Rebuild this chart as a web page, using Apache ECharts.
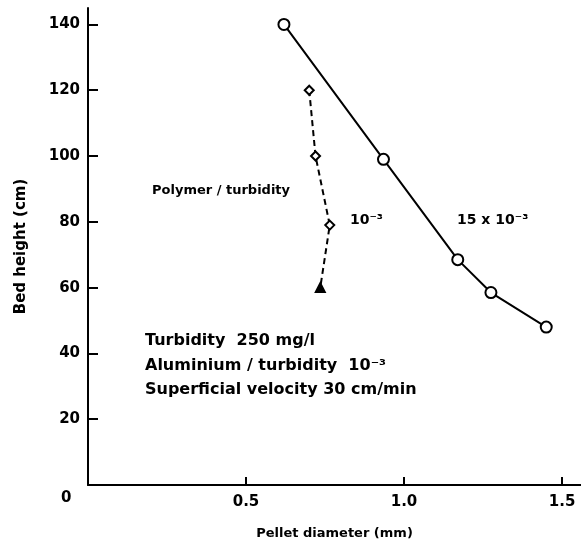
<!DOCTYPE html>
<html>
<head>
<meta charset="utf-8">
<script src="https://cdn.jsdelivr.net/npm/echarts@6/dist/echarts.min.js"></script>
<style>
  html, body { margin: 0; padding: 0; background: #fff; }
  #chart { width: 581px; height: 545px; }
</style>
</head>
<body>
<div id="chart"></div>
<script>
// solid curve: aluminium + polymer 15 x 10^-3
const solidX = [0.62, 0.935, 1.17, 1.275, 1.45];
const solidY = [140, 99, 68.5, 58.5, 48];
// dashed curve: polymer 10^-3
const dashX = [0.70, 0.72, 0.765, 0.735];
const dashY = [120, 100, 79, 60];
const dashSymbols = ['emptyDiamond', 'emptyDiamond', 'emptyDiamond', 'triangle'];
// tick labels
const xTicks = [0.5, 1.0, 1.5];
const yTicks = [20, 40, 60, 80, 100, 120, 140];

const font = 'DejaVu Sans';
const chart = echarts.init(document.getElementById('chart'));

const toPairs = (xs, ys) => xs.map((x, i) => [x, ys[i]]);

chart.setOption({
  backgroundColor: '#fff',
  animation: false,
  grid: { left: 88, top: 8, width: 493, height: 477 },
  xAxis: {
    type: 'value',
    min: 0,
    max: 1.56,
    name: 'Pellet diameter (mm)',
    nameLocation: 'middle',
    nameGap: 42,
    nameTextStyle: { fontFamily: font, fontWeight: 'bold', fontSize: 13, color: '#000' },
    splitLine: { show: false },
    axisLine: { onZero: false, lineStyle: { color: '#000', width: 2 } },
    axisTick: { inside: true, length: 8, customValues: xTicks, lineStyle: { color: '#000', width: 2 } },
    axisLabel: {
      customValues: xTicks,
      formatter: v => v.toFixed(1),
      margin: 10,
      fontFamily: font, fontWeight: 'bold', fontSize: 15, color: '#000'
    }
  },
  yAxis: {
    type: 'value',
    min: 0,
    max: 145,
    name: 'Bed height (cm)',
    nameLocation: 'middle',
    nameGap: 59,
    nameTextStyle: { fontFamily: font, fontWeight: 'bold', fontSize: 15, color: '#000' },
    splitLine: { show: false },
    axisLine: { onZero: false, lineStyle: { color: '#000', width: 2 } },
    axisTick: { inside: true, length: 10, customValues: yTicks, lineStyle: { color: '#000', width: 2 } },
    axisLabel: {
      customValues: yTicks,
      margin: 8,
      fontFamily: font, fontWeight: 'bold', fontSize: 15, color: '#000'
    }
  },
  graphic: [
    { type: 'text', left: 61, top: 491, style: { text: '0', font: 'bold 15px ' + font, fill: '#000' } },
    { type: 'text', left: 152, top: 184, style: { text: 'Polymer / turbidity', font: 'bold 13px ' + font, fill: '#000' } },
    { type: 'text', left: 350, top: 213, style: { text: '10⁻³', font: 'bold 14px ' + font, fill: '#000' } },
    { type: 'text', left: 457, top: 213, style: { text: '15 x 10⁻³', font: 'bold 14px ' + font, fill: '#000' } },
    { type: 'text', left: 145, top: 333, style: { text: 'Turbidity  250 mg/l', font: 'bold 16px ' + font, fill: '#000' } },
    { type: 'text', left: 145, top: 358, style: { text: 'Aluminium / turbidity  10⁻³', font: 'bold 16px ' + font, fill: '#000' } },
    { type: 'text', left: 145, top: 382, style: { text: 'Superficial velocity 30 cm/min', font: 'bold 16px ' + font, fill: '#000' } }
  ],
  series: [
    {
      type: 'line',
      data: toPairs(solidX, solidY),
      symbol: 'emptyCircle',
      symbolSize: 11,
      lineStyle: { color: '#000', width: 2 },
      itemStyle: { color: '#000', borderColor: '#000', borderWidth: 2 }
    },
    {
      type: 'line',
      data: toPairs(dashX, dashY).map((p, i) => ({ value: p, symbol: dashSymbols[i] })),
      symbolSize: 9,
      lineStyle: { color: '#000', width: 2, type: [6, 4] },
      itemStyle: { color: '#000', borderColor: '#000', borderWidth: 2 }
    }
  ]
});
</script>
</body>
</html>
